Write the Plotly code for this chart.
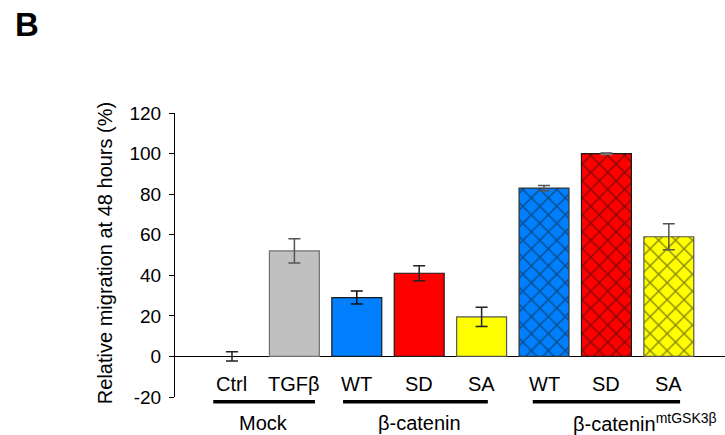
import plotly.graph_objects as go

categories = ["Ctrl", "TGFβ", "WT", "SD", "SA", "WT", "SD", "SA"]
values = [0, 52, 29, 41, 19.5, 83, 100, 59]
errors = [2.3, 6, 3.2, 3.7, 4.7, 1.3, 0.4, 6.4]
bar_colors = ["#C0C0C0", "#C0C0C0", "#0080FF", "#FF0000", "#FFFF00", "#0080FF", "#FF0000", "#FFFF00"]
edge_colors = ["#707070", "#707070", "#1a1a1a", "#1a1a1a", "#555555", "#333333", "#1a1a1a", "#555555"]
err_colors = ["#222222", "#555555", "#111111", "#222222", "#222222", "#555555", "#777777", "#555555"]
hatched = [False, False, False, False, False, True, True, True]

group_names = ["Mock", "β-catenin", "β-catenin<sup>mtGSK3β</sup>"]
group_spans = [(-0.30, 1.33), (1.78, 4.10), (4.82, 7.18)]
group_label_x = [0.5, 3.0, 6.62]

yticks = [-20, 0, 20, 40, 60, 80, 100, 120]
ytick_text = ["-20", "0", "20", "40", "60", "80", "100", "120"]

FONT = "Liberation Sans, Arial, sans-serif"

fig = go.Figure()
for i, (c, v, e) in enumerate(zip(categories, values, errors)):
    marker = dict(color=bar_colors[i],
                  line=dict(color=edge_colors[i], width=1.2 if v != 0 else 0))
    if hatched[i]:
        marker["pattern"] = dict(shape="x", fgcolor="#111111", size=12,
                                 solidity=0.22, fillmode="overlay")
    fig.add_trace(go.Bar(
        x=[i], y=[v], width=0.8, marker=marker,
        error_y=dict(type="data", array=[e], visible=True,
                     color=err_colors[i], thickness=1.5, width=6),
        showlegend=False, hoverinfo="skip",
    ))

# category labels
for i, c in enumerate(categories):
    fig.add_annotation(x=i, y=-13.5, xref="x", yref="y", text=c, showarrow=False,
                       font=dict(family=FONT, size=20, color="black"),
                       xanchor="center", yanchor="middle")

# group underlines and labels
for name, (x0, x1), gx in zip(group_names, group_spans, group_label_x):
    fig.add_shape(type="line", xref="x", yref="paper", x0=x0, x1=x1,
                  y0=-0.0165, y1=-0.0165, line=dict(color="black", width=3.5))
    fig.add_annotation(x=gx, y=-0.0915, xref="x", yref="paper", text=name,
                       showarrow=False, font=dict(family=FONT, size=20, color="black"),
                       xanchor="center", yanchor="middle")

# y-axis title
fig.add_annotation(x=-0.127, y=0.507, xref="paper", yref="paper",
                   text="Relative migration at 48 hours (%)", textangle=-90,
                   showarrow=False, font=dict(family=FONT, size=20, color="black"),
                   xanchor="center", yanchor="middle")

# panel letter
fig.add_annotation(x=-0.295, y=1.31, xref="paper", yref="paper", text="<b>B</b>",
                   showarrow=False, font=dict(family=FONT, size=33, color="black"),
                   xanchor="left", yanchor="middle")

fig.update_layout(
    width=725, height=435,
    margin=dict(l=175, r=0, t=113, b=38),
    paper_bgcolor="white", plot_bgcolor="white",
    barmode="overlay",
    font=dict(family=FONT, color="black"),
    xaxis=dict(range=[-0.913, 7.9], showticklabels=False, showgrid=False,
               zeroline=False, showline=False, ticks=""),
    yaxis=dict(range=[-20, 120], tickvals=yticks, ticktext=ytick_text, showgrid=False,
               showline=True, linecolor="black", linewidth=1,
               ticks="outside", ticklen=5, tickcolor="black", tickwidth=1,
               zeroline=True, zerolinecolor="black", zerolinewidth=1,
               tickfont=dict(family=FONT, size=19, color="black"),
               ticklabelstandoff=4),
)

fig.write_html("out.html", config={"displayModeBar": False},
               post_script="document.body.style.margin='0';document.body.style.padding='0';document.body.style.overflow='hidden';")
